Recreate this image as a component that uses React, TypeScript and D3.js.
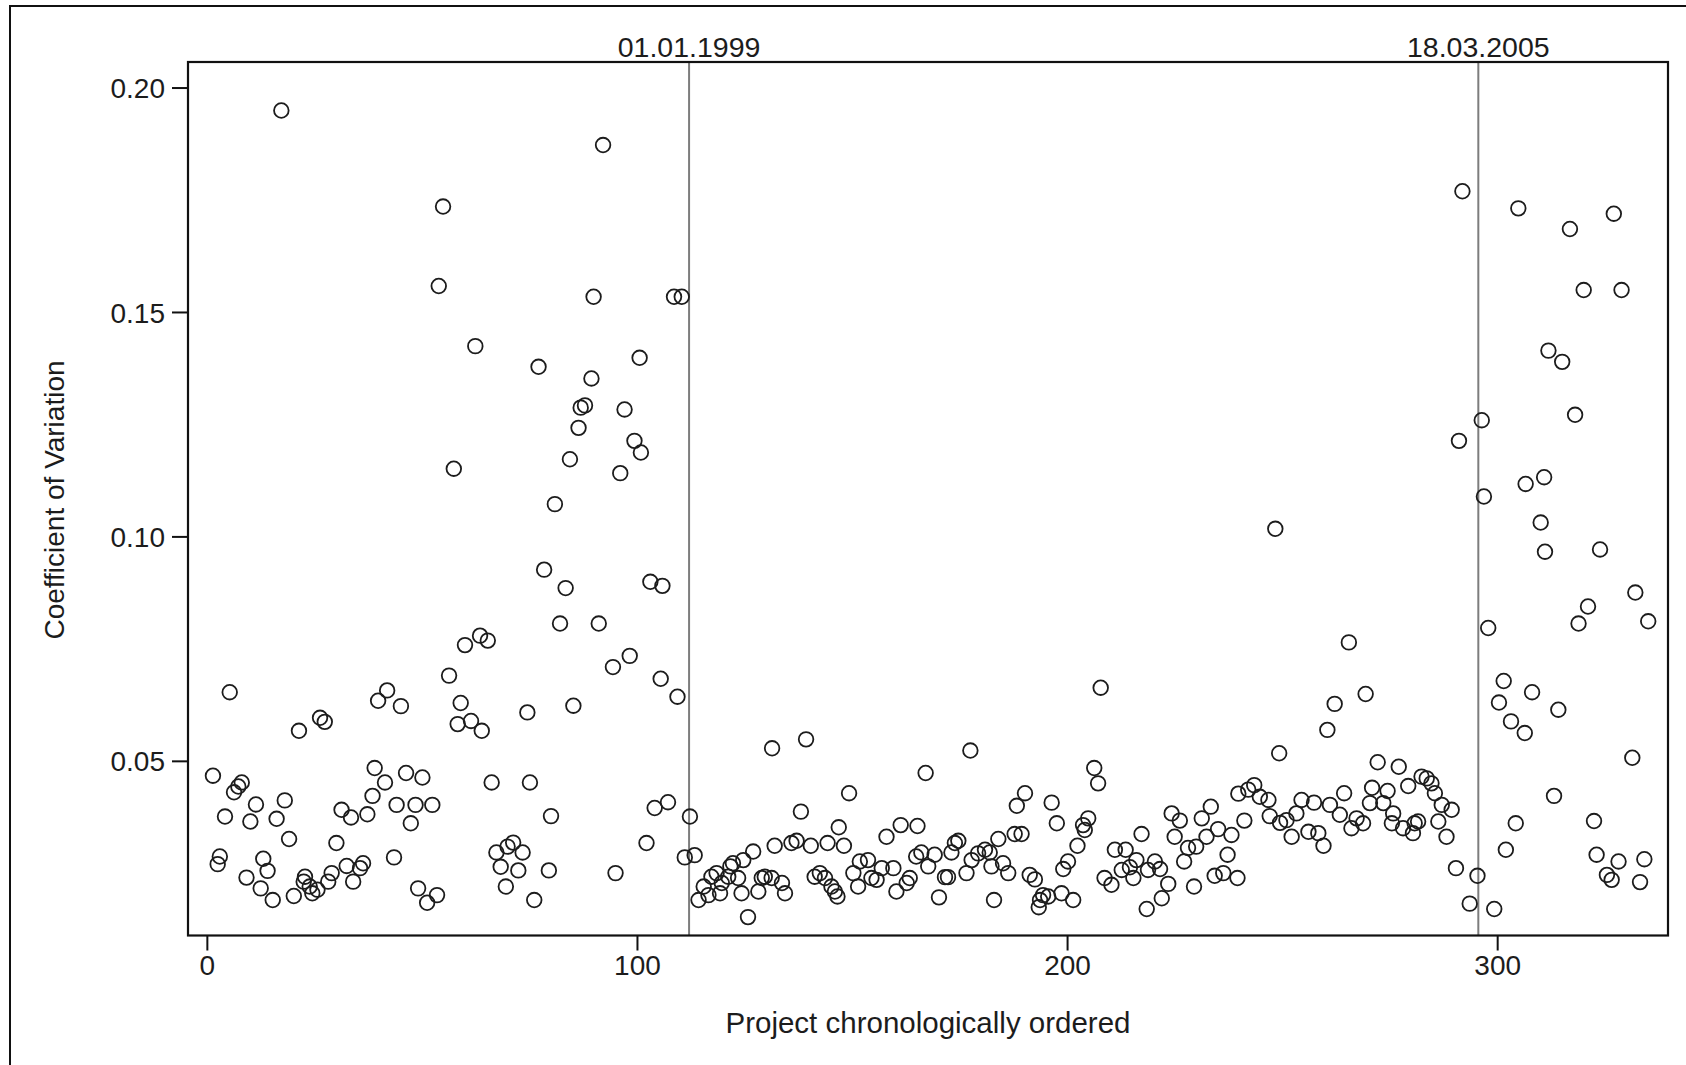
import React from "react";
import { scaleLinear } from "d3";

// project position in chronological order
const projectIndex = [
  1.3, 2.4, 2.9, 4.1, 5.2, 6.2, 7.2, 8.0, 9.1, 10.0, 11.3, 12.4, 13.0, 14.0, 15.2, 16.1, 17.2, 18.0, 19.0, 20.1,
  21.3, 22.4, 22.7, 23.8, 24.4, 25.6, 26.2, 27.3, 28.1, 28.9, 30.0, 31.2, 32.4, 33.4, 33.9, 35.5, 36.2, 37.2, 38.4, 38.9,
  39.7, 41.3, 41.8, 43.4, 44.0, 45.0, 46.2, 47.3, 48.4, 49.0, 50.0, 51.1, 52.3, 53.4, 53.8, 54.8, 56.2, 57.3, 58.2, 58.9,
  59.9, 61.3, 62.3, 63.4, 63.8, 65.2, 66.1, 67.2, 68.2, 69.4, 69.8, 71.1, 72.3, 73.3, 74.4, 75.0, 76.0, 77.0, 78.3, 79.4,
  79.9, 80.8, 82.0, 83.3, 84.3, 85.1, 86.3, 86.8, 87.8, 89.3, 89.8, 91.0, 92.0, 94.3, 94.9, 96.0, 97.0, 98.2, 99.3, 100.5,
  100.8, 102.1, 103.0, 104.0, 105.4, 105.8, 107.1, 108.5, 109.3, 110.3, 111.0, 112.2, 113.3,
  114.2, 115.4, 116.5, 117.2, 118.4, 119.2, 119.6, 121.1, 121.6, 122.2, 123.4, 124.2, 124.6, 125.7, 126.9, 128.1, 128.9, 129.6, 131.2, 131.3,
  131.9, 133.6, 134.3, 135.8, 137.0, 138.0, 139.2, 140.3, 141.2, 142.4, 143.6, 144.2, 145.1, 145.9, 146.5, 146.8, 148.0, 149.2, 150.2, 151.3,
  151.7, 153.6, 154.4, 155.6, 156.8, 157.9, 159.5, 160.2, 161.2, 162.6, 163.3, 164.8, 165.1, 166.0, 167.0, 167.6, 169.1, 170.1, 171.5, 172.2,
  173.0, 173.8, 174.6, 176.5, 177.4, 177.7, 179.2, 180.8, 181.9, 182.3, 182.9, 183.9, 185.0, 186.2, 187.7, 188.2, 189.3, 190.1, 191.2, 192.4,
  193.3, 193.6, 194.3, 195.5, 196.3, 197.5, 198.6, 199.0, 200.1, 201.3, 202.3, 203.6, 204.0, 204.8, 206.2, 207.1, 207.7, 208.6, 210.2, 211.0,
  212.6, 213.5, 214.5, 215.3, 216.0, 217.2, 218.4, 218.7, 220.3, 221.5, 221.9, 223.4, 224.2, 224.9, 226.1, 227.1, 228.0, 229.4, 229.9, 231.2,
  232.3, 233.3, 234.2, 235.0, 236.2, 237.2, 238.1, 239.5, 239.7, 241.1, 242.0, 243.4, 244.7, 246.7, 247.0, 248.3, 249.2, 249.4, 250.9, 252.1,
  253.2, 254.4, 256.0, 257.3, 258.3, 259.5, 260.4, 261.0, 262.1, 263.3, 264.3, 265.4, 266.0, 267.2, 268.7, 269.3, 270.3, 270.8, 272.1, 273.4,
  274.4, 275.4, 275.7, 277.0, 278.0, 279.2, 280.3, 280.7, 281.5, 282.3, 283.5, 284.6, 285.4, 286.2, 287.0, 288.1, 289.3, 290.3, 291.0, 291.8,
  293.5, 295.3, 296.3, 296.8, 297.8, 299.2, 300.3, 301.4, 301.9, 303.1, 304.2, 304.8, 306.3, 306.5, 308.0, 310.0, 310.8, 311.0, 311.8, 313.1,
  314.1, 315.0, 316.8, 318.0, 318.8, 320.0, 321.0, 322.4, 323.0, 323.8, 325.4, 326.5, 327.0, 328.1, 328.8, 331.3, 332.0, 333.1, 334.1, 335.0,
];

// coefficient of variation per project
const coefVar = [
  0.0468, 0.0271, 0.0288, 0.0377, 0.0654, 0.0431, 0.0444, 0.0453, 0.0241, 0.0366, 0.0404, 0.0217, 0.0283, 0.0256, 0.0191, 0.0372, 0.195, 0.0413, 0.0327, 0.02,
  0.0568, 0.0232, 0.0243, 0.0221, 0.0206, 0.0214, 0.0597, 0.0588, 0.0232, 0.0251, 0.0318, 0.0392, 0.0267, 0.0375, 0.0232, 0.0262, 0.0273, 0.0382, 0.0423, 0.0485,
  0.0635, 0.0453, 0.0658, 0.0286, 0.0403, 0.0623, 0.0474, 0.0362, 0.0403, 0.0217, 0.0464, 0.0185, 0.0403, 0.0202, 0.1559, 0.1736, 0.0691, 0.1152, 0.0583, 0.063,
  0.0759, 0.059, 0.1425, 0.078, 0.0568, 0.0769, 0.0453, 0.0297, 0.0265, 0.0221, 0.031, 0.0319, 0.0257, 0.0297, 0.0609, 0.0453, 0.0191, 0.1379, 0.0927, 0.0257,
  0.0378, 0.1073, 0.0807, 0.0886, 0.1173, 0.0624, 0.1243, 0.1288, 0.1293, 0.1353, 0.1535, 0.0807, 0.1873, 0.071, 0.0251, 0.1142, 0.1284, 0.0735, 0.1214, 0.1399,
  0.1188, 0.0318, 0.09, 0.0396, 0.0684, 0.0891, 0.0409, 0.1535, 0.0644, 0.1535, 0.0286, 0.0377, 0.0291,
  0.0191, 0.0221, 0.0202, 0.0243, 0.0251, 0.0206, 0.0229, 0.0243, 0.0266, 0.0273, 0.024, 0.0206, 0.028, 0.0153, 0.0299, 0.021, 0.024, 0.0243, 0.024, 0.0529,
  0.0312, 0.0229, 0.0206, 0.0318, 0.0323, 0.0388, 0.0549, 0.0312, 0.0243, 0.0251, 0.024, 0.0318, 0.0221, 0.021, 0.0199, 0.0353, 0.0312, 0.0429, 0.0251, 0.0221,
  0.0277, 0.028, 0.024, 0.0236, 0.0262, 0.0332, 0.0262, 0.021, 0.0358, 0.0229, 0.024, 0.0288, 0.0356, 0.0297, 0.0474, 0.0266, 0.0292, 0.0197, 0.0242, 0.0242,
  0.0297, 0.0318, 0.0323, 0.0251, 0.0524, 0.028, 0.0295, 0.0303, 0.0297, 0.0266, 0.0191, 0.0327, 0.0273, 0.0251, 0.0338, 0.0401, 0.0338, 0.0429, 0.0247, 0.0237,
  0.0175, 0.0191, 0.0202, 0.0199, 0.0408, 0.0362, 0.0206, 0.026, 0.0277, 0.0191, 0.0312, 0.0358, 0.0347, 0.0373, 0.0485, 0.0451, 0.0664, 0.024, 0.0225, 0.0303,
  0.0258, 0.0303, 0.0264, 0.024, 0.028, 0.0338, 0.0171, 0.0258, 0.0277, 0.026, 0.0195, 0.0227, 0.0384, 0.0332, 0.0368, 0.0277, 0.0307, 0.0221, 0.031, 0.0373,
  0.0332, 0.0399, 0.0245, 0.0349, 0.0251, 0.0292, 0.0336, 0.024, 0.0428, 0.0368, 0.0437, 0.0447, 0.0421, 0.0414, 0.0378, 0.1018, 0.0518, 0.0363, 0.0369, 0.0332,
  0.0384, 0.0414, 0.0343, 0.0408, 0.034, 0.0312, 0.057, 0.0403, 0.0628, 0.0381, 0.0429, 0.0765, 0.0351, 0.0373, 0.0362, 0.065, 0.0407, 0.0441, 0.0498, 0.0407,
  0.0434, 0.0362, 0.0384, 0.0488, 0.0351, 0.0445, 0.034, 0.0362, 0.0366, 0.0466, 0.0462, 0.0451, 0.0429, 0.0366, 0.0403, 0.0332, 0.0392, 0.0262, 0.1214, 0.177,
  0.0183, 0.0245, 0.126, 0.109, 0.0797, 0.0171, 0.0631, 0.0679, 0.0303, 0.0589, 0.0362, 0.1732, 0.0563, 0.1118, 0.0654, 0.1032, 0.1133, 0.0967, 0.1415, 0.0423,
  0.0615, 0.139, 0.1686, 0.1272, 0.0807, 0.155, 0.0845, 0.0367, 0.0292, 0.0972, 0.0247, 0.0236, 0.172, 0.0277, 0.155, 0.0508, 0.0876, 0.0231, 0.0282, 0.0812,
];

const xTicks = [0, 100, 200, 300];
const yTicks = [0.05, 0.1, 0.15, 0.2];
const markerPos = [112, 295.5];
const markerLabels = ["01.01.1999", "18.03.2005"];

const W = 1686;
const H = 1065;
const left = 188, right = 1668, top = 62, bottom = 935.5;
const font = "'Liberation Sans', Arial, sans-serif";
const ink = "#1c1c1c";

export default function App() {
  const x = scaleLinear().domain([-4.5, 339.6]).range([left, right]);
  const y = scaleLinear().domain([0.0112, 0.2058]).range([bottom, top]);

  return (
    <svg width={W} height={H} style={{ position: "absolute", left: 0, top: 0, background: "#fff" }}>
      <rect x={0} y={0} width={W} height={H} fill="#fff" />
      {/* outer frame */}
      <rect x={10} y={6} width={W} height={H} fill="none" stroke="#111" strokeWidth={2} />

      {/* date markers */}
      {markerPos.map((m, i) => (
        <g key={"m" + i}>
          <line x1={x(m)} x2={x(m)} y1={top} y2={bottom} stroke="#7d7d7d" strokeWidth={2} />
          <text x={x(m)} y={57} textAnchor="middle" fontFamily={font} fontSize={28.5} fill={ink}>
            {markerLabels[i]}
          </text>
        </g>
      ))}

      {/* points */}
      {coefVar.map((v, i) => (
        <circle key={i} cx={x(projectIndex[i])} cy={y(v)} r={7.3} fill="none" stroke={ink} strokeWidth={1.8} />
      ))}

      {/* plot box */}
      <rect x={left} y={top} width={right - left} height={bottom - top} fill="none" stroke="#111" strokeWidth={2.2} />

      {/* y axis */}
      {yTicks.map((t) => (
        <g key={"y" + t}>
          <line x1={left - 16} x2={left} y1={y(t)} y2={y(t)} stroke="#111" strokeWidth={2} />
          <text x={left - 23} y={y(t)} dy="0.36em" textAnchor="end" fontFamily={font} fontSize={28} fill={ink}>
            {t.toFixed(2)}
          </text>
        </g>
      ))}

      {/* x axis */}
      {xTicks.map((t) => (
        <g key={"x" + t}>
          <line x1={x(t)} x2={x(t)} y1={bottom} y2={bottom + 15} stroke="#111" strokeWidth={2} />
          <text x={x(t)} y={974.5} textAnchor="middle" fontFamily={font} fontSize={28} fill={ink}>
            {t}
          </text>
        </g>
      ))}

      <text x={928} y={1033} textAnchor="middle" fontFamily={font} fontSize={29.5} fill={ink}>
        Project chronologically ordered
      </text>
      <text transform="translate(64,500) rotate(-90)" textAnchor="middle" fontFamily={font} fontSize={28} fill={ink}>
        Coefficient of Variation
      </text>
    </svg>
  );
}
